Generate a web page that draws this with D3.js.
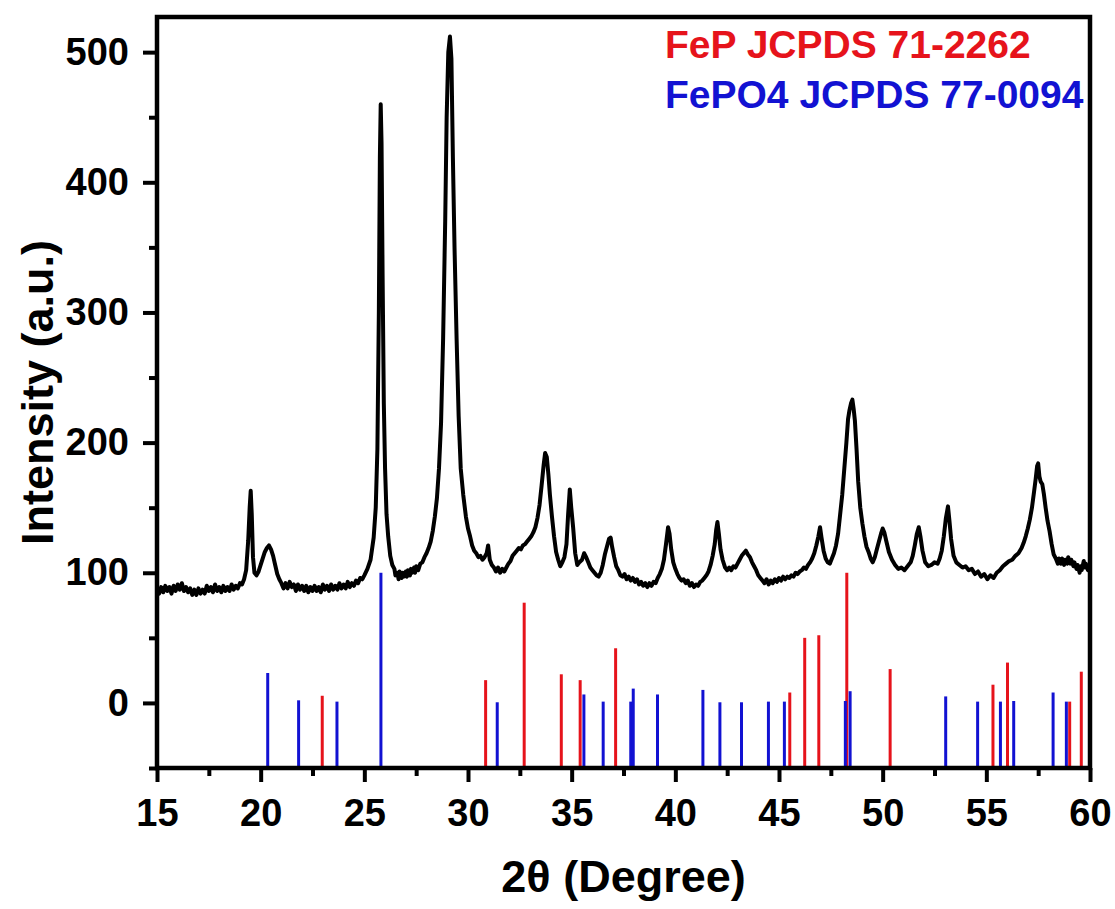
<!doctype html>
<html>
  <head>
    <meta charset="utf-8">
    <title>XRD</title>
    <style type="text/css">
		body{
			margin: 0px;
			background: #ffffff;
		}
		#chart text{
			font-family: "Liberation Sans", Arial, sans-serif;
			font-weight: bold;
		}
    </style>
    <script src="https://d3js.org/d3.v7.min.js"></script>
  </head>
  <body>
    <svg id="chart" width="1115" height="909"></svg>
    <script type="text/javascript">
		// measured pattern, [2theta, intensity]
		var xrdPattern = [
			[15.0, 88], [15.1, 84], [15.2, 89], [15.3, 85], [15.4, 90], [15.5, 86], [15.6, 89], [15.7, 84],
			[15.8, 90], [15.9, 86], [16.0, 91], [16.1, 87], [16.2, 92], [16.3, 86], [16.4, 89], [16.5, 85],
			[16.6, 88], [16.7, 83], [16.8, 87], [16.9, 83], [17.0, 88], [17.1, 84], [17.2, 87], [17.3, 84],
			[17.4, 90], [17.5, 86], [17.6, 89], [17.7, 85], [17.8, 91], [17.9, 86], [18.0, 89], [18.1, 85],
			[18.2, 90], [18.3, 86], [18.4, 89], [18.5, 86], [18.6, 91], [18.7, 87], [18.8, 90], [18.9, 88],
			[19.0, 92], [19.1, 91], [19.2, 95], [19.3, 102], [19.4, 125],
			[19.47, 150], [19.52, 163], [19.57, 145], [19.63, 112], [19.7, 100], [19.8, 98], [19.9, 101],
			[20.0, 106], [20.1, 111], [20.2, 116], [20.3, 119], [20.4, 121], [20.5, 118], [20.6, 113],
			[20.7, 106], [20.8, 99], [20.9, 95], [21.0, 92], [21.1, 88], [21.2, 92], [21.3, 88], [21.4, 93],
			[21.5, 89], [21.6, 91], [21.7, 86], [21.8, 91], [21.9, 87], [22.0, 90], [22.1, 86], [22.2, 90],
			[22.3, 85], [22.4, 89], [22.5, 86], [22.6, 90], [22.7, 86], [22.8, 89], [22.9, 85], [23.0, 91],
			[23.1, 87], [23.2, 90], [23.3, 86], [23.4, 91], [23.5, 87], [23.6, 90], [23.7, 87], [23.8, 92],
			[23.9, 88], [24.0, 91], [24.1, 88], [24.2, 93], [24.3, 89], [24.4, 92], [24.5, 90], [24.6, 94],
			[24.7, 92], [24.8, 96], [24.9, 95], [25.0, 98],
			[25.15, 103], [25.3, 110], [25.45, 127], [25.55, 150], [25.63, 195], [25.7, 300], [25.75, 420],
			[25.79, 460], [25.83, 430], [25.88, 330], [25.94, 230], [26.0, 180], [26.07, 145], [26.15, 128],
			[26.25, 113], [26.35, 106], [26.45, 103], [26.5, 98], [26.6, 100], [26.65, 95], [26.7, 101],
			[26.8, 96], [26.85, 100], [26.9, 97], [27.0, 101], [27.05, 97], [27.1, 102], [27.2, 98],
			[27.25, 103], [27.3, 100], [27.4, 104], [27.45, 100], [27.5, 105], [27.6, 102],
			[27.7, 107], [27.8, 108], [27.9, 112], [28.0, 115], [28.1, 119], [28.2, 124], [28.3, 132],
			[28.4, 143], [28.5, 157], [28.6, 180], [28.7, 215], [28.8, 280], [28.9, 370], [28.97, 450],
			[29.05, 500], [29.13, 512], [29.2, 495], [29.27, 420], [29.35, 350], [29.45, 280], [29.55, 220],
			[29.65, 180], [29.77, 160], [29.9, 143], [30.0, 134], [30.1, 128], [30.2, 121], [30.3, 117],
			[30.4, 115], [30.5, 112], [30.6, 113], [30.7, 110], [30.8, 112], [30.9, 115], [30.97, 121],
			[31.05, 110], [31.15, 106], [31.25, 104], [31.35, 101], [31.45, 104], [31.55, 100], [31.65, 103],
			[31.75, 101], [31.85, 104], [31.95, 107], [32.05, 109], [32.15, 113], [32.25, 115], [32.35, 117],
			[32.45, 119], [32.55, 118], [32.65, 121], [32.75, 122], [32.85, 124], [32.95, 126], [33.05, 128],
			[33.15, 131], [33.25, 135], [33.35, 142], [33.45, 152], [33.55, 167], [33.65, 183], [33.72, 192],
			[33.8, 189], [33.88, 175], [33.95, 160], [34.05, 143], [34.15, 128], [34.25, 116], [34.35, 110],
			[34.45, 105], [34.55, 108], [34.65, 112], [34.75, 122], [34.83, 145], [34.91, 164], [34.98, 150],
			[35.07, 135], [35.17, 115], [35.27, 106], [35.37, 108], [35.5, 110], [35.6, 115], [35.7, 112],
			[35.8, 108], [35.9, 104], [36.0, 102], [36.1, 100], [36.2, 98], [36.3, 97], [36.4, 100],
			[36.5, 106], [36.6, 114], [36.7, 120], [36.8, 126], [36.88, 127], [36.95, 120], [37.05, 112],
			[37.15, 105], [37.25, 102], [37.35, 98], [37.45, 97], [37.55, 99], [37.65, 95], [37.75, 97],
			[37.85, 94], [37.95, 96], [38.05, 93], [38.15, 95], [38.25, 91], [38.35, 93], [38.45, 90],
			[38.55, 92], [38.65, 89], [38.75, 92], [38.85, 90], [38.95, 93], [39.05, 92], [39.15, 96],
			[39.25, 99], [39.35, 103], [39.45, 110], [39.55, 122], [39.65, 135], [39.72, 130], [39.8, 118],
			[39.9, 108], [40.0, 103], [40.1, 99], [40.2, 96], [40.3, 94], [40.4, 95], [40.5, 92], [40.6, 94],
			[40.7, 90], [40.8, 92], [40.9, 89], [41.0, 91], [41.1, 90], [41.2, 93], [41.3, 94], [41.4, 96],
			[41.5, 98], [41.6, 101], [41.7, 106], [41.8, 113], [41.9, 122], [41.97, 133], [42.03, 139],
			[42.1, 130], [42.18, 118], [42.28, 110], [42.4, 104], [42.5, 102], [42.6, 104], [42.7, 102],
			[42.8, 105], [42.9, 104], [43.0, 107], [43.1, 110], [43.2, 113], [43.3, 115], [43.4, 117],
			[43.5, 114], [43.6, 112], [43.7, 108], [43.8, 105], [43.9, 102], [44.0, 98], [44.1, 96],
			[44.2, 94], [44.3, 92], [44.4, 95], [44.5, 91], [44.6, 94], [44.7, 92], [44.8, 95], [44.9, 93],
			[45.0, 96], [45.1, 94], [45.2, 97], [45.3, 95], [45.4, 97], [45.5, 96], [45.6, 98], [45.7, 97],
			[45.8, 100], [45.9, 99], [46.0, 101], [46.1, 102], [46.2, 104], [46.3, 103], [46.4, 106],
			[46.5, 108], [46.6, 111], [46.7, 115], [46.8, 121], [46.9, 128], [46.98, 135], [47.05, 127],
			[47.15, 117], [47.25, 111], [47.35, 108], [47.45, 107], [47.55, 111], [47.65, 115], [47.75, 121],
			[47.85, 130], [47.95, 145], [48.05, 160], [48.15, 180], [48.25, 200], [48.33, 218], [48.4, 225],
			[48.47, 230], [48.54, 233], [48.6, 226], [48.66, 217], [48.74, 195], [48.82, 170], [48.92, 150],
			[49.02, 138], [49.12, 128], [49.22, 120], [49.32, 116], [49.42, 111], [49.52, 108], [49.62, 112],
			[49.72, 118], [49.82, 124], [49.92, 130], [50.0, 134], [50.08, 131], [50.18, 124], [50.3, 116],
			[50.45, 110], [50.6, 106], [50.75, 103], [50.9, 104], [51.05, 102], [51.2, 105], [51.35, 108],
			[51.45, 113], [51.55, 121], [51.65, 130], [51.74, 135], [51.82, 128], [51.92, 117], [52.05, 108],
			[52.2, 105], [52.35, 106], [52.5, 108], [52.65, 107], [52.75, 111], [52.85, 117], [52.95, 128],
			[53.05, 142], [53.15, 151], [53.22, 140], [53.3, 126], [53.42, 113], [53.55, 108], [53.7, 106],
			[53.85, 104], [54.0, 105], [54.15, 102], [54.3, 103], [54.45, 99], [54.6, 101], [54.75, 97],
			[54.9, 99], [55.05, 95], [55.2, 98], [55.35, 96], [55.5, 100], [55.65, 102], [55.8, 105],
			[55.95, 107], [56.1, 109], [56.25, 110], [56.4, 113], [56.55, 115], [56.7, 119], [56.8, 123],
			[56.9, 128], [57.0, 134], [57.1, 141], [57.2, 150], [57.3, 162], [57.38, 172], [57.45, 182],
			[57.5, 184], [57.56, 174], [57.62, 170], [57.7, 168], [57.78, 160], [57.86, 150], [57.95, 140],
			[58.05, 132], [58.15, 122], [58.25, 114], [58.35, 111], [58.45, 107], [58.5, 111], [58.6, 107],
			[58.65, 111], [58.75, 106], [58.8, 110], [58.9, 107], [58.95, 112], [59.05, 107], [59.1, 110],
			[59.2, 105], [59.25, 108], [59.35, 103], [59.4, 106], [59.5, 100], [59.55, 105], [59.6, 102],
			[59.7, 109], [59.75, 104], [59.8, 107], [59.9, 102], [60.0, 106]
		];

		// reference cards, [2theta, relative intensity]
		var fepRef = [
			[22.97, 5.5], [30.85, 17.5], [32.71, 77], [34.50, 22], [35.41, 17.5], [37.12, 42],
			[45.52, 8], [46.24, 50], [46.92, 52], [48.27, 100], [50.36, 26], [55.32, 14],
			[56.02, 31], [59.02, 1], [59.58, 24]
		];
		var fepo4Ref = [
			[20.34, 23], [21.83, 2], [23.68, 1], [25.80, 100], [31.41, 0.5], [35.59, 6.5],
			[36.52, 1], [37.85, 1], [37.97, 11], [39.14, 6.5], [41.33, 10], [42.15, 0.5],
			[43.19, 0.5], [44.49, 1], [45.26, 1], [48.20, 1.5], [48.43, 9], [53.04, 5],
			[54.58, 1], [55.68, 1], [56.32, 1.5], [58.22, 8], [58.86, 1]
		];

		var xTicks = [15, 20, 25, 30, 35, 40, 45, 50, 55, 60];
		var xMinorTicks = [17.5, 22.5, 27.5, 32.5, 37.5, 42.5, 47.5, 52.5, 57.5];
		var yTicks = [0, 100, 200, 300, 400, 500];
		var yMinorTicks = [-50, 50, 150, 250, 350, 450];
		var legendLabels = ["FeP JCPDS 71-2262", "FePO4 JCPDS 77-0094"];

		var plotLeft = 157, plotRight = 1090, plotTop = 17, plotBottom = 768;
		var red = "#e6131b";
		var blue = "#1212d2";

		var svg = d3.select("#chart");

		var scaleX = d3.scaleLinear()
			.domain([15, 60])
			.range([plotLeft, plotRight]);
		var scaleY = d3.scaleLinear()
			.domain([-50, 527])
			.range([plotBottom, plotTop]);

		// stick patterns
		var sticks = svg.append("g");
		sticks.selectAll(".fep")
			.data(fepRef)
			.enter().append("line")
			.attr("class", "fep")
			.attr("x1", function(d){ return scaleX(d[0]); })
			.attr("x2", function(d){ return scaleX(d[0]); })
			.attr("y1", scaleY(-50))
			.attr("y2", function(d){ return scaleY(d[1]); })
			.attr("stroke", red)
			.attr("stroke-width", 3);
		sticks.selectAll(".fepo4")
			.data(fepo4Ref)
			.enter().append("line")
			.attr("class", "fepo4")
			.attr("x1", function(d){ return scaleX(d[0]); })
			.attr("x2", function(d){ return scaleX(d[0]); })
			.attr("y1", scaleY(-50))
			.attr("y2", function(d){ return scaleY(d[1]); })
			.attr("stroke", blue)
			.attr("stroke-width", 3);

		// measured curve
		var line = d3.line()
			.x(function(d){ return scaleX(d[0]); })
			.y(function(d){ return scaleY(d[1]); });
		svg.append("path")
			.attr("d", line(xrdPattern))
			.attr("fill", "none")
			.attr("stroke", "#000")
			.attr("stroke-width", 4)
			.attr("stroke-linejoin", "round");

		// axes
		var axisX = d3.axisBottom(scaleX).tickValues(xTicks).tickSize(14).tickPadding(17);
		var axisXMinor = d3.axisBottom(scaleX).tickValues(xMinorTicks).tickSize(8).tickFormat("");
		var axisY = d3.axisLeft(scaleY).tickValues(yTicks).tickSize(14).tickPadding(14);
		var axisYMinor = d3.axisLeft(scaleY).tickValues(yMinorTicks).tickSize(8).tickFormat("");

		[axisX, axisXMinor].forEach(function(a){
			var g = svg.append("g")
				.attr("transform", "translate(0," + plotBottom + ")")
				.call(a);
			g.select(".domain").remove();
			g.selectAll("line").attr("stroke-width", 4);
			g.selectAll("text").attr("font-size", 38).attr("fill", "#000");
		});
		[axisY, axisYMinor].forEach(function(a){
			var g = svg.append("g")
				.attr("transform", "translate(" + plotLeft + ",0)")
				.call(a);
			g.select(".domain").remove();
			g.selectAll("line").attr("stroke-width", 4);
			g.selectAll("text").attr("font-size", 38).attr("fill", "#000");
		});

		// frame
		svg.append("rect")
			.attr("x", plotLeft)
			.attr("y", plotTop)
			.attr("width", plotRight - plotLeft)
			.attr("height", plotBottom - plotTop)
			.attr("fill", "none")
			.attr("stroke", "#000")
			.attr("stroke-width", 4.5);

		// titles
		svg.append("text")
			.attr("x", (plotLeft + plotRight) / 2)
			.attr("y", 892)
			.attr("text-anchor", "middle")
			.attr("font-size", 45)
			.text("2θ (Degree)");
		svg.append("text")
			.attr("transform", "translate(53," + ((plotTop + plotBottom) / 2) + ") rotate(-90)")
			.attr("text-anchor", "middle")
			.attr("font-size", 45)
			.text("Intensity (a.u.)");

		// legend
		svg.selectAll(".legend")
			.data(legendLabels)
			.enter().append("text")
			.attr("class", "legend")
			.attr("x", 665)
			.attr("y", function(d, i){ return 58 + i * 50; })
			.attr("font-size", 39)
			.attr("fill", function(d, i){ return i == 0 ? red : blue; })
			.text(function(d){ return d; });
    </script>
  </body>
</html>
